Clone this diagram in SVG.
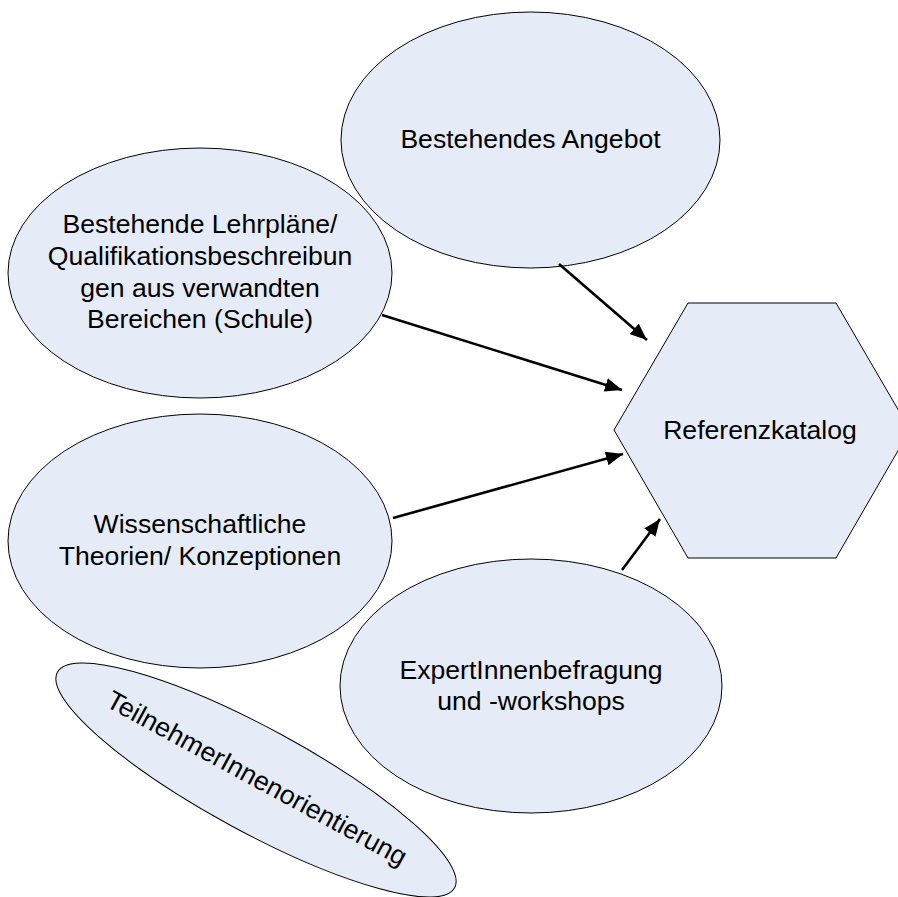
<svg xmlns="http://www.w3.org/2000/svg" width="898" height="897" viewBox="0 0 898 897">
  <style>
    .shape { fill: #e6ecf7; stroke: #000; stroke-width: 1; }
    .label { font-family: "Liberation Sans", Arial, sans-serif; font-size: 26.6px; fill: #000; text-anchor: middle; }
    .link { stroke: #000; stroke-width: 2.6; fill: none; marker-end: url(#head); }
  </style>
  <defs>
    <marker id="head" markerUnits="userSpaceOnUse" markerWidth="18" markerHeight="14" refX="17" refY="7" orient="auto">
      <path d="M0,0 L17,7 L0,14 Z" fill="#000"/>
    </marker>
  </defs>

  <rect width="898" height="897" fill="#fff"/>

  <g id="bestehendes-angebot">
    <ellipse class="shape" cx="530.5" cy="140" rx="189.5" ry="128"/>
    <text class="label" x="530.5" y="148">Bestehendes Angebot</text>
  </g>

  <g id="lehrplaene">
    <ellipse class="shape" cx="200" cy="273" rx="192" ry="125"/>
    <text class="label" x="200" y="233">Bestehende Lehrpläne/</text>
    <text class="label" x="200" y="265">Qualifikationsbeschreibun</text>
    <text class="label" x="200" y="297">gen aus verwandten</text>
    <text class="label" x="200" y="328">Bereichen (Schule)</text>
  </g>

  <g id="theorien">
    <ellipse class="shape" cx="200" cy="541" rx="192" ry="127"/>
    <text class="label" x="200" y="533">Wissenschaftliche</text>
    <text class="label" x="200" y="565">Theorien/ Konzeptionen</text>
  </g>

  <g id="expertinnen">
    <ellipse class="shape" cx="531" cy="686" rx="191" ry="127"/>
    <text class="label" x="531" y="679">ExpertInnenbefragung</text>
    <text class="label" x="531" y="710">und -workshops</text>
  </g>

  <g id="teilnehmerinnen" transform="translate(256,780) rotate(28.5)">
    <ellipse class="shape" cx="0" cy="0" rx="226" ry="52"/>
    <text class="label" x="0" y="7">TeilnehmerInnenorientierung</text>
  </g>

  <g id="referenzkatalog">
    <polygon class="shape" points="614,430 688,303 836,303 910,430 836,558 688,558"/>
    <text class="label" x="760" y="439">Referenzkatalog</text>
  </g>

  <g id="connectors">
    <line class="link" x1="559" y1="264" x2="647" y2="340"/>
    <line class="link" x1="382" y1="315" x2="622" y2="390"/>
    <line class="link" x1="393" y1="518" x2="623" y2="454"/>
    <line class="link" x1="622" y1="570" x2="660" y2="519"/>
  </g>
</svg>
